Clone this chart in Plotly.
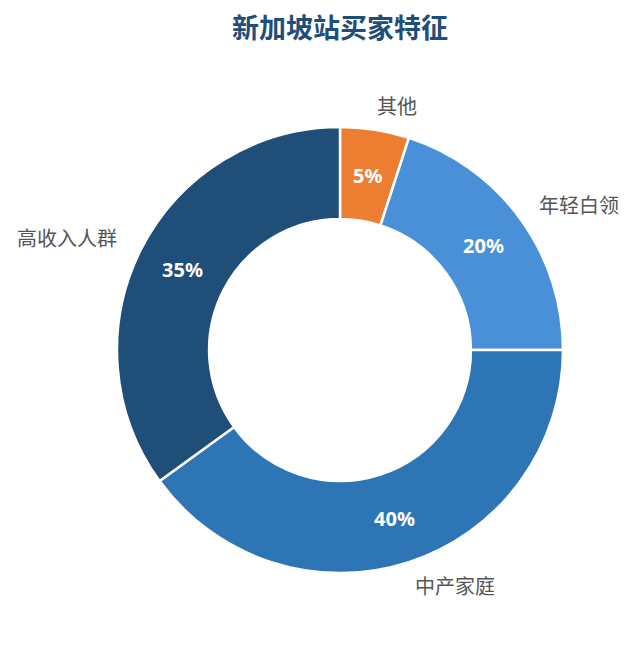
import math
import plotly.graph_objects as go

categories = ["其他", "年轻白领", "中产家庭", "高收入人群"]
values = [5, 20, 40, 35]
colors = ["#ED7D31", "#4A90D9", "#2E75B6", "#1F4E79"]
title_text = "新加坡站买家特征"

OFF = 8                     # default body margin of the html page
W, H = 637 - 2 * OFF, 645 - 2 * OFF
cx, cy = 340 - OFF, 350 - OFF   # centre of the donut inside the figure
R_out = 223
hole = 0.587
R_in = R_out * hole
R_label = R_out + 25
R_pct = (R_out + R_in) / 2

fig = go.Figure()
fig.add_trace(go.Pie(
    labels=categories, values=values, hole=hole, sort=False,
    direction="clockwise", rotation=0,
    marker=dict(colors=colors, line=dict(color="white", width=2.5)),
    textinfo="none", hoverinfo="label+percent", showlegend=False,
    domain=dict(x=[(cx - R_out) / W, (cx + R_out) / W],
                y=[(H - cy - R_out) / H, (H - cy + R_out) / H]),
))

total = sum(values)
annotations = []
cum = 0
for cat, v in zip(categories, values):
    mid = (cum + v / 2) / total * 2 * math.pi
    cum += v
    s, c = math.sin(mid), math.cos(mid)
    lx, ly = cx + R_label * s, cy - R_label * c
    annotations.append(dict(
        x=lx / W, y=1 - ly / H, xref="paper", yref="paper",
        text=cat, showarrow=False,
        xanchor="left" if s >= 0 else "right", yanchor="middle",
        xshift=-4 if s >= 0 else 0,
        font=dict(family="Noto Sans CJK SC", size=20, color="#555555"),
    ))
    px, py = cx + R_pct * s, cy - R_pct * c
    annotations.append(dict(
        x=px / W, y=1 - py / H, xref="paper", yref="paper",
        text=f"<b>{round(v / total * 100)}%</b>", showarrow=False,
        xanchor="center", yanchor="middle",
        font=dict(family="Noto Sans", size=20, color="white"),
    ))

annotations.append(dict(
    x=cx / W, y=1 - (27 - OFF) / H, xref="paper", yref="paper",
    text=f"<b>{title_text}</b>", showarrow=False,
    xanchor="center", yanchor="middle",
    font=dict(family="Noto Sans CJK SC", size=27, color="#1F4E79"),
))

fig.update_layout(
    width=W, height=H,
    margin=dict(l=0, r=0, t=0, b=0),
    paper_bgcolor="white", plot_bgcolor="white",
    annotations=annotations,
)

fig.write_html("out.html")
